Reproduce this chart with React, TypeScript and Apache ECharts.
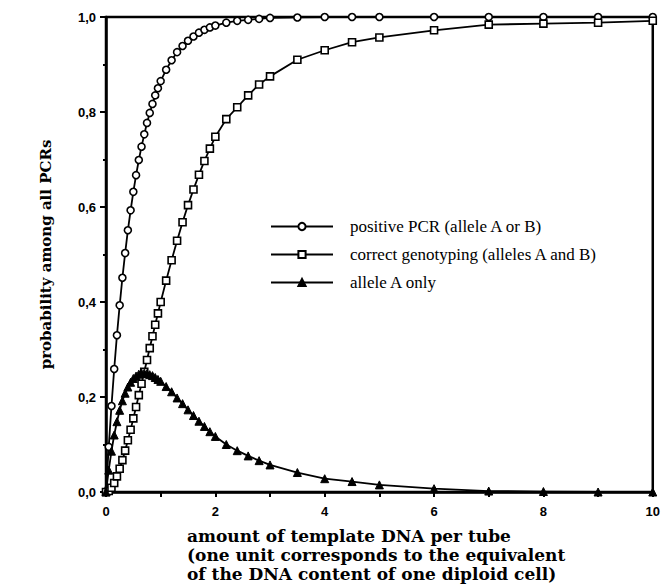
import React, { useEffect, useRef } from 'react';
import * as echarts from 'echarts';

const xValues = [
  0, 0.05, 0.1, 0.15, 0.2, 0.25, 0.3, 0.35, 0.4, 0.45, 0.5, 0.55, 0.6, 0.65, 0.7, 0.75, 0.8, 0.85, 0.9, 0.95, 1.0,
  1.1, 1.2, 1.3, 1.4, 1.5, 1.6, 1.7, 1.8, 1.9, 2.0,
  2.2, 2.4, 2.6, 2.8, 3.0,
  3.5, 4, 4.5, 5,
  6, 7, 8, 9, 10,
];

const positivePCR = [
  0, 0.095, 0.181, 0.259, 0.33, 0.393, 0.451, 0.503, 0.551, 0.593, 0.632, 0.667, 0.699, 0.727, 0.753, 0.777, 0.798, 0.817, 0.835, 0.85, 0.865,
  0.889, 0.909, 0.926, 0.939, 0.95, 0.959, 0.967, 0.973, 0.978, 0.982,
  0.988, 0.992, 0.994, 0.996, 0.998,
  0.999, 1, 1, 1,
  1, 1, 1, 1, 1,
];

const correctGenotyping = [
  0, 0.002, 0.009, 0.019, 0.033, 0.049, 0.067, 0.087, 0.109, 0.131, 0.155, 0.179, 0.204, 0.228, 0.253, 0.278, 0.303, 0.328, 0.352, 0.376, 0.4,
  0.445, 0.488, 0.529, 0.568, 0.604, 0.637, 0.668, 0.697, 0.723, 0.748,
  0.785, 0.81, 0.835, 0.858, 0.875,
  0.91, 0.93, 0.947, 0.957,
  0.972, 0.984, 0.986, 0.988, 0.992,
];

const alleleAOnly = [
  0, 0.046, 0.086, 0.12, 0.148, 0.172, 0.192, 0.208, 0.221, 0.231, 0.239, 0.244, 0.248, 0.25, 0.25, 0.249, 0.247, 0.245, 0.241, 0.237, 0.233,
  0.222, 0.211, 0.198, 0.186, 0.173, 0.161, 0.149, 0.138, 0.127, 0.117,
  0.1, 0.087, 0.076, 0.066, 0.057,
  0.041, 0.028, 0.022, 0.015,
  0.007, 0.002, 0.001, 0, 0,
];

const seriesNames = [
  'positive PCR (allele A or B)',
  'correct genotyping (alleles A and B)',
  'allele A only',
];

const yTickLabels = ['0,0', '0,2', '0,4', '0,6', '0,8', '1,0'];
const xTickLabels = ['0', '2', '4', '6', '8', '10'];

const yTitle = 'probability among all PCRs';
const xTitleLines = [
  'amount of template DNA per tube',
  '(one unit corresponds to the equivalent',
  'of the DNA content of one diploid cell)',
];

export default function App() {
  const ref = useRef<HTMLDivElement>(null);

  useEffect(() => {
    if (!ref.current) return;
    const chart = echarts.init(ref.current, undefined, { renderer: 'svg' });
    const pairs = (ys: number[]) => xValues.map((x, i) => [x, ys[i]]);
    const lineStyle = { color: '#000', width: 1.8 };

    chart.setOption({
      animation: false,
      backgroundColor: '#fff',
      grid: {
        left: 106,
        right: 7,
        top: 17,
        bottom: 95,
        show: true,
        borderColor: '#000',
        borderWidth: 2.5,
        backgroundColor: 'transparent',
      },
      legend: {
        data: seriesNames,
        orient: 'vertical',
        left: 265,
        top: 213,
        itemWidth: 62,
        itemHeight: 9,
        itemGap: 11,
        selectedMode: false,
        textStyle: {
          fontFamily: 'Liberation Serif',
          fontSize: 17,
          color: '#000',
          padding: [0, 0, 0, 12],
        },
      },
      xAxis: {
        type: 'value',
        min: 0,
        max: 10,
        interval: 1,
        axisLine: { show: true, lineStyle: { color: '#000', width: 2.5 } },
        axisTick: { show: true, length: 5, lineStyle: { color: '#000', width: 2 } },
        splitLine: { show: false },
        axisLabel: {
          margin: 13,
          color: '#000',
          fontFamily: 'Liberation Sans',
          fontWeight: 'bold',
          fontSize: 13,
          formatter: (v: number) => (Math.round(v) % 2 === 0 ? xTickLabels[Math.round(v) / 2] : ''),
        },
      },
      yAxis: {
        type: 'value',
        min: 0,
        max: 1,
        interval: 0.2,
        name: yTitle,
        nameLocation: 'middle',
        nameGap: 53,
        nameTextStyle: {
          fontFamily: 'DejaVu Serif',
          fontWeight: 'bold',
          fontSize: 15,
          color: '#000',
        },
        axisLine: { show: true, lineStyle: { color: '#000', width: 2.5 } },
        axisTick: { show: true, length: 6, lineStyle: { color: '#000', width: 2 } },
        minorTick: { show: true, splitNumber: 2, length: 3, lineStyle: { color: '#000', width: 2 } },
        splitLine: { show: false },
        axisLabel: {
          margin: 10,
          color: '#000',
          fontFamily: 'Liberation Sans',
          fontWeight: 'bold',
          fontSize: 13,
          formatter: (v: number) => yTickLabels[Math.round(v / 0.2)],
        },
      },
      graphic: [
        {
          type: 'text',
          left: 187,
          top: 526,
          style: {
            text: xTitleLines.join('\n'),
            font: 'bold 17px "DejaVu Serif"',
            lineHeight: 19,
            fill: '#000',
            textAlign: 'left',
          },
        },
      ],
      series: [
        {
          name: seriesNames[0],
          type: 'line',
          data: pairs(positivePCR),
          symbol: 'circle',
          symbolSize: 7,
          lineStyle,
          itemStyle: { color: '#fff', borderColor: '#000', borderWidth: 1.6 },
          z: 3,
        },
        {
          name: seriesNames[1],
          type: 'line',
          data: pairs(correctGenotyping),
          symbol: 'rect',
          symbolSize: 7,
          lineStyle,
          itemStyle: { color: '#fff', borderColor: '#000', borderWidth: 1.6 },
          z: 3,
        },
        {
          name: seriesNames[2],
          type: 'line',
          data: pairs(alleleAOnly),
          symbol: 'triangle',
          symbolSize: 8,
          lineStyle,
          itemStyle: { color: '#000', borderColor: '#000', borderWidth: 1 },
          z: 4,
        },
      ],
    });

    return () => chart.dispose();
  }, []);

  return (
    <div
      ref={ref}
      style={{ position: 'fixed', left: 0, top: 0, width: 663, height: 587, background: '#fff' }}
    />
  );
}
